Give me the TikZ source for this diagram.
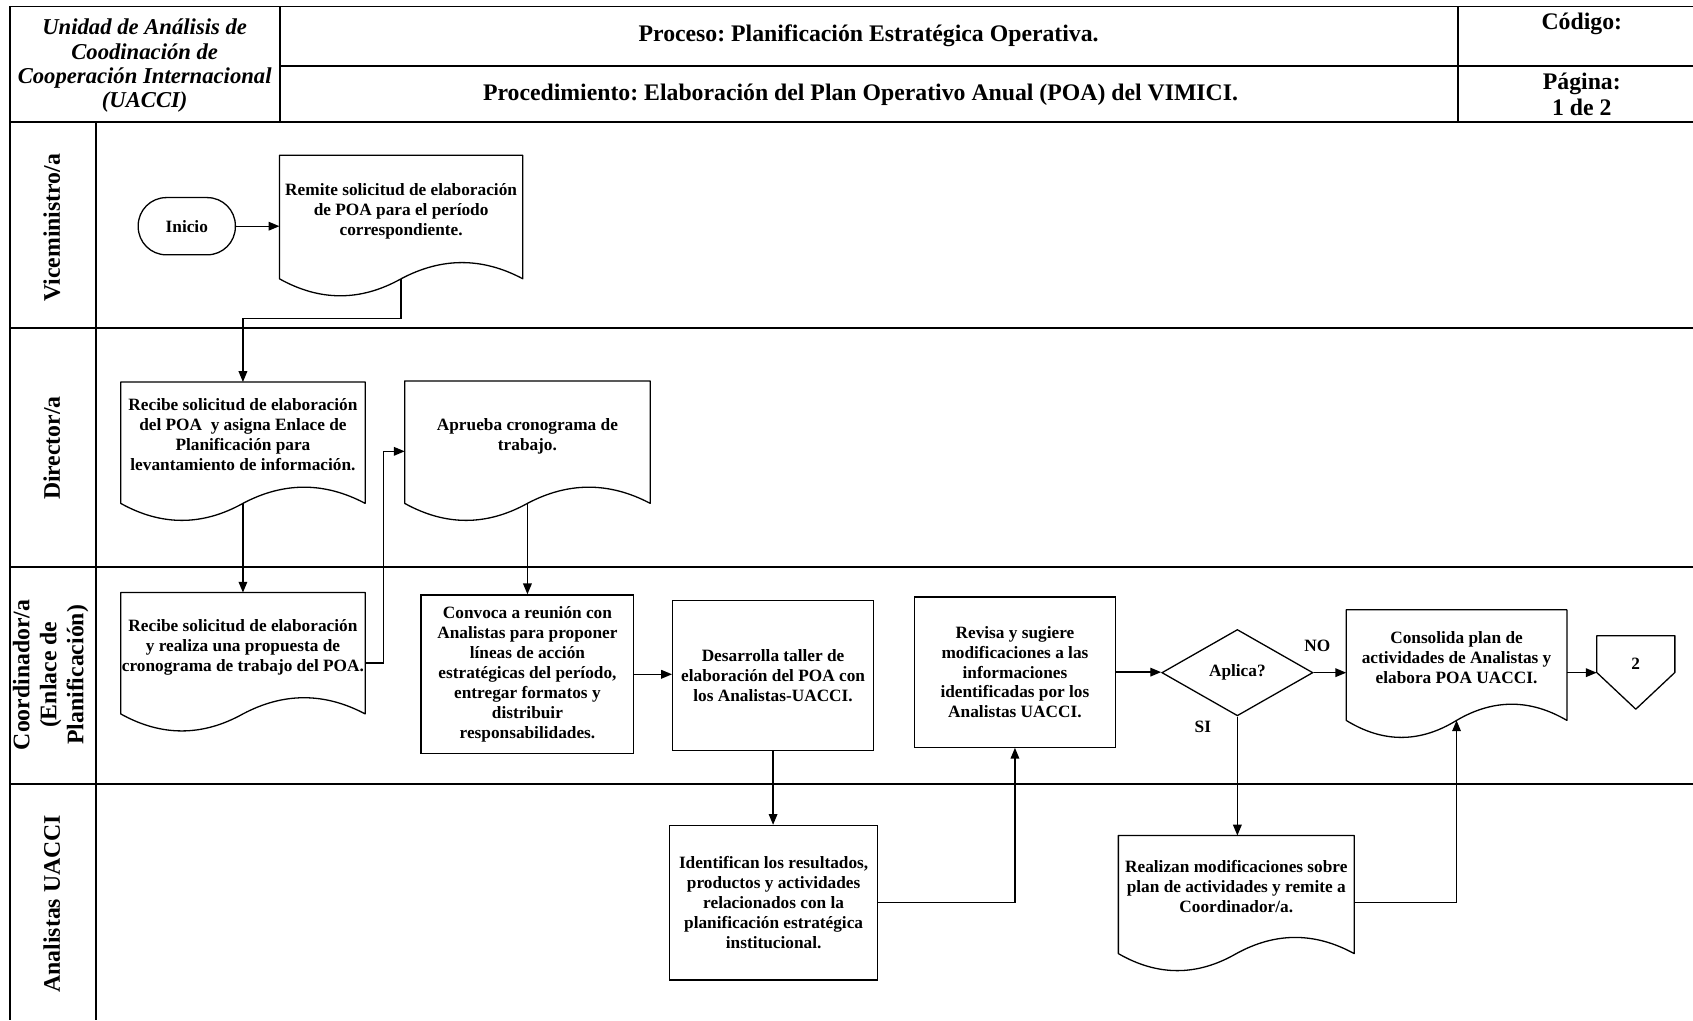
\documentclass[tikz,border=0pt]{standalone}
\usepackage{fontspec}
\setmainfont{Liberation Serif}
\usetikzlibrary{arrows.meta,calc,shapes.geometric}
\frenchspacing

\newcommand\docout[1]{%
  \draw[shp] (#1.south west) -- (#1.north west) -- (#1.north east) -- (#1.south east)
    .. controls ($(#1.south east)!0.1667!(#1.south west)+(0,-20)$) and ($(#1.south east)!0.3333!(#1.south west)+(0,-20)$) .. (#1.south)
    .. controls ($(#1.south)!0.3333!(#1.south west)+(0,21)$) and ($(#1.south)!0.6667!(#1.south west)+(0,21)$) .. (#1.south west) -- cycle;}

\begin{document}
\begin{tikzpicture}[x=1pt,y=-1pt,
  shp/.style={line width=1.2pt, line join=round},
  arr/.style={line width=1.2pt, -{Triangle[length=10pt,width=8pt]}},
  tline/.style={line width=1.7pt},
  boxtxt/.style={font=\bfseries\fontsize{16}{18.5}\selectfont, align=center, inner sep=0pt},
  docn/.style={boxtxt, rectangle, draw=none},
  procbox/.style={boxtxt, rectangle, draw, line width=1.2pt},
  term/.style={boxtxt, draw, line width=1.2pt, rounded corners=26pt, minimum width=90pt, minimum height=53pt},
  dia/.style={boxtxt, diamond, draw, line width=1.2pt, minimum width=140pt, minimum height=80pt},
  lane/.style={rotate=90, font=\bfseries\fontsize{22}{25}\selectfont, align=center, inner sep=0pt},
  hdr/.style={font=\bfseries\fontsize{22}{24}\selectfont, align=center, inner sep=0pt},
  hdri/.style={font=\bfseries\itshape\fontsize{21}{22.6}\selectfont, align=center, inner sep=0pt}
]
\fill[white] (0,0) rectangle (1568,945);
\useasboundingbox (0,0) rectangle (1568,945);

% table frame
\draw[tline] (1568,6) -- (9,6) -- (9,945);
\draw[tline] (9,113) -- (1568,113);
\draw[tline] (259,61) -- (1568,61);
\draw[tline] (259,6) -- (259,113);
\draw[tline] (1350,6) -- (1350,113);
\draw[tline] (89,113) -- (89,945);
\draw[tline] (9,304) -- (1568,304);
\draw[tline] (9,525.5) -- (1568,525.5);
\draw[tline] (9,726) -- (1568,726);

% header texts
\node[hdri] (hunit) at (134,61) {Unidad de Análisis de\\Coodinación de\\Cooperación Internacional\\(UACCI)};
\node[hdr] (hproc) at (804.5,33.5) {Proceso: Planificación Estratégica Operativa.};
\node[hdr] (hpro2) at (797,88) {Procedimiento: Elaboración del Plan Operativo Anual (POA) del VIMICI.};
\node[hdr] (hcod) at (1465,22) {Código:};
\node[hdr] (hpag) at (1465,87) {Página:\\1 de 2};

% lane labels
\node[lane] (lv) at (48,211) {Viceministro/a};
\node[lane] (ld) at (48,415) {Director/a};
\node[lane] (lc) at (47,625) {Coordinador/a\\(Enlace de\\Planificación)};
\node[lane] (la) at (48,837) {Analistas UACCI};

% nodes
\node[term] (ini) at (173,209.5) {Inicio};
\node[docn, minimum width=225pt, minimum height=114pt] (d1) at (371.5,201) {Remite solicitud de elaboración\\de POA para el período\\correspondiente.\\[-4pt]\mbox{}};
\node[docn, minimum width=226pt, minimum height=112pt] (d2) at (225,410) {Recibe solicitud de elaboración\\del POA\ \ y asigna Enlace de\\Planificación para\\levantamiento de información.\\[-4pt]\mbox{}};
\node[docn, minimum width=227pt, minimum height=113pt] (d3) at (488.5,409.5) {Aprueba cronograma de\\trabajo.\\[-4pt]\mbox{}};
\node[docn, minimum width=226pt, minimum height=112pt] (d4) at (225,605) {Recibe solicitud de elaboración\\y realiza una propuesta de\\cronograma de trabajo del POA.\\[-4pt]\mbox{}};
\node[procbox, minimum width=197pt, minimum height=147pt] (b1) at (488.5,624.5) {Convoca a reunión con\\Analistas para proponer\\líneas de acción\\estratégicas del período,\\entregar formatos y\\distribuir\\responsabilidades.};
\node[procbox, minimum width=186pt, minimum height=139pt] (b2) at (716,625.5) {Desarrolla taller de\\elaboración del POA con\\los Analistas-UACCI.};
\node[procbox, minimum width=186pt, minimum height=139pt] (b3) at (940,622.5) {Revisa y sugiere\\modificaciones a las\\informaciones\\identificadas por los\\Analistas UACCI.};
\node[procbox, minimum width=193pt, minimum height=143pt] (b4) at (716.5,836) {Identifican los resultados,\\productos y actividades\\relacionados con la\\planificación estratégica\\institucional.};
\node[dia] (dia) at (1146,623) {Aplica?};
\node[docn, minimum width=204pt, minimum height=102pt] (d5) at (1349,616) {Consolida plan de\\actividades de Analistas y\\elabora POA UACCI.\\[-4pt]\mbox{}};
\node[boxtxt, minimum width=72pt, minimum height=52pt] (off) at (1515,615) {2};
\node[docn, minimum width=218pt, minimum height=109pt] (d6) at (1145,828.5) {Realizan modificaciones sobre\\plan de actividades y remite a\\Coordinador/a.\\[-4pt]\mbox{}};
\node[boxtxt] (no) at (1220,598) {NO};
\node[boxtxt] (si) at (1114,673) {SI};

% outlines
\docout{d1}
\docout{d2}
\docout{d3}
\docout{d4}
\docout{d5}
\docout{d6}
\draw[shp] (off.north west) -- (off.north east) -- ([yshift=-34pt]off.north east) -- ([yshift=-68pt]off.north) -- ([yshift=-34pt]off.north west) -- cycle;

% connectors
\draw[arr] (ini.east) -- (ini.east -| d1.west);
\draw[arr] (d1.south) -- ++(0,37) -| (d2.north);
\draw[arr] (d2.south) -- (d4.north);
\draw[arr] ([yshift=-9pt]d4.east) -- ++(17,0) |- ([yshift=-8.5pt]d3.west);
\draw[arr] (d3.south) -- (b1.north);
\draw[arr] (b1.east) -- (b1.east -| b2.west);
\draw[arr] (b2.south) -- (b2.south |- b4.north);
\draw[arr] (b4.east) -| (b3.south);
\draw[arr] (b3.east) -- (b3.east -| dia.west);
\draw[arr] (dia.east) -- (dia.east -| d5.west);
\draw[arr] (dia.east -| d5.east) -- (dia.east -| off.west);
\draw[arr] (dia.south) -- (dia.south |- d6.north);
\draw[arr] ([yshift=-7.5pt]d6.east) -| (d5.south);
\end{tikzpicture}
\end{document}
